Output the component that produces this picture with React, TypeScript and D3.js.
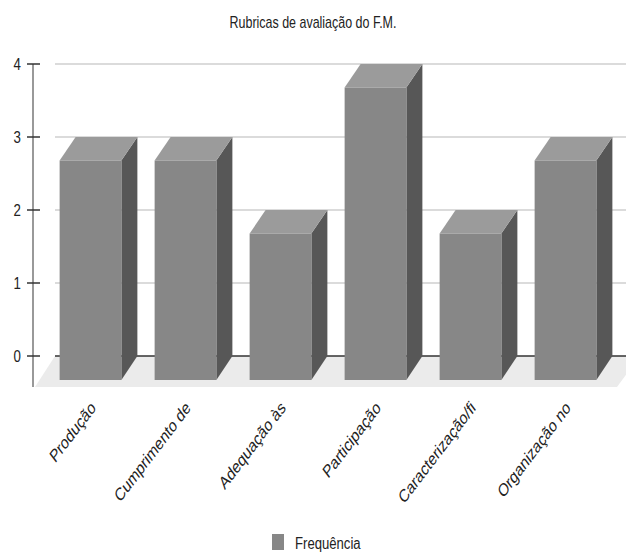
import React from "react";
import * as d3 from "d3";

const categories = [
  "Produção",
  "Cumprimento de",
  "Adequação às",
  "Participação",
  "Caracterização/fi",
  "Organização no",
];
const frequencia = [3, 3, 2, 4, 2, 3];
const yTicks = [0, 1, 2, 3, 4];
const title = "Rubricas de avaliação do F.M.";
const seriesName = "Frequência";

const W = 626;
const H = 553;
const FONT = "'Liberation Sans', Arial, sans-serif";
const SQ = 0.78; // horizontal squish of the reference text

export default function App() {
  const y = d3.scaleLinear().domain([0, 4]).range([356, 64]);
  const x = d3
    .scaleBand<string>()
    .domain(categories)
    .range([43, 613])
    .paddingInner(0.35)
    .paddingOuter(0.175);
  const bw = x.bandwidth();
  const ddx = 16; // depth offset x
  const ddy = 23.5; // depth offset y
  const y0 = y(0);

  const floorBack = y0;
  const floorFront = 387;
  return (
    <svg
      width={W}
      height={H}
      style={{ position: "absolute", left: 0, top: 0, background: "#fff" }}
      fontFamily={FONT}
    >
      <rect x={0} y={0} width={W} height={H} fill="#fff" />
      {/* title */}
      <text
        transform={`translate(313,27.5) scale(${SQ},1)`}
        textAnchor="middle"
        fontSize={16}
        fill="#222"
      >
        {title}
      </text>

      {/* floor */}
      <polygon
        points={`55,${floorBack} 640,${floorBack} 617,${floorFront} 35,${floorFront}`}
        fill="#ebebeb"
      />

      {/* gridlines */}
      {yTicks
        .filter((t) => t !== 0)
        .map((t) => (
          <line
            key={t}
            x1={55}
            x2={W}
            y1={y(t)}
            y2={y(t)}
            stroke="#cfcfcf"
            strokeWidth={1.5}
          />
        ))}
      {/* zero line */}
      <line x1={55} x2={W} y1={y0} y2={y0} stroke="#333" strokeWidth={1.3} />

      {/* y axis */}
      <line x1={33} x2={33} y1={y(4)} y2={floorFront} stroke="#777" strokeWidth={1.5} />
      {yTicks.map((t) => (
        <g key={t}>
          <line x1={27} x2={40} y1={y(t)} y2={y(t)} stroke="#333" strokeWidth={1.5} />
          <text
            transform={`translate(21,${y(t) + 6}) scale(${SQ},1)`}
            textAnchor="end"
            fontSize={17}
            fill="#222"
          >
            {t}
          </text>
        </g>
      ))}

      {/* bars */}
      {categories.map((c, i) => {
        const x0 = x(c)!;
        const v = frequencia[i];
        const yb = y(v);
        const yf = yb + ddy;
        const yBottomFront = y0 + 24;
        return (
          <g key={c}>
            <polygon
              points={`${x0 + bw},${yf} ${x0 + bw + ddx},${yb} ${x0 + bw + ddx},${y0} ${x0 + bw},${yBottomFront}`}
              fill="#575757"
            />
            <polygon
              points={`${x0},${yf} ${x0 + ddx},${yb} ${x0 + bw + ddx},${yb} ${x0 + bw},${yf}`}
              fill="#9b9b9b"
            />
            <rect x={x0} y={yf} width={bw} height={yBottomFront - yf} fill="#878787" />
          </g>
        );
      })}

      {/* category labels */}
      {categories.map((c) => {
        const cx = x(c)! + bw / 2 + 6;
        return (
          <text
            key={c}
            transform={`translate(${cx},409) scale(0.76,1) rotate(-45)`}
            textAnchor="end"
            fontSize={18}
            fill="#222"
          >
            {c}
          </text>
        );
      })}

      {/* legend */}
      <rect x={272} y={534} width={12} height={16} fill="#878787" />
      <text
        transform={`translate(295,549) scale(0.82,1)`}
        fontSize={16}
        fill="#222"
      >
        {seriesName}
      </text>
    </svg>
  );
}
